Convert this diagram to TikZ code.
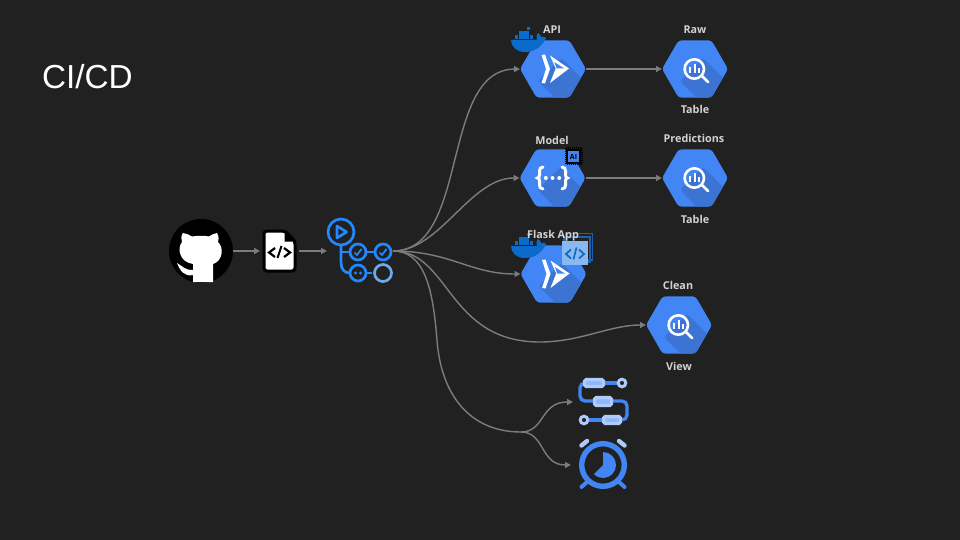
\documentclass[tikz,border=0pt]{standalone}
\usepackage{fontspec}
\setmainfont{Open Sans}
\newfontfamily\slidefont{Liberation Sans}
\usetikzlibrary{arrows.meta, positioning, shapes.geometric}
\definecolor{slidebg}{HTML}{212121}
\definecolor{gcpblue}{HTML}{4285F4}
\definecolor{gcpshade}{HTML}{3B74D2}
\definecolor{gcplight}{HTML}{AECBFA}
\definecolor{ghblue}{HTML}{2188FF}
\definecolor{ghlight}{HTML}{6CA8EA}
\definecolor{whaleblue}{HTML}{0B6BCB}
\definecolor{framenavy}{HTML}{1F5FA8}
\definecolor{linkgrey}{HTML}{7C7C7C}
\definecolor{labelgrey}{HTML}{D2D2D2}
\tikzset{
    link/.style={draw=linkgrey, line width=1.4pt, -{Triangle[length=6pt, width=6pt]}},
    linkplain/.style={draw=linkgrey, line width=1.4pt},
    hexbox/.style={regular polygon, regular polygon sides=6,
        minimum size=66pt, inner sep=0pt, outer sep=0pt, fill=gcpblue, rounded corners=3pt,
        path picture={\fill[gcpshade] (path picture bounding box.center)
            ++(8,-11) -- ++(40,40) -- ++(-23,23) -- ++(-40,-40) -- cycle;}},
    holder/.style={inner sep=0pt, outer sep=0pt},
    hexlabel/.style={font=\fontsize{10.8}{12}\selectfont\bfseries, text=labelgrey, inner sep=0pt},
    pill/.style={draw=gcplight, fill=gcplight!70!gcpblue, line width=3.3pt, rounded corners=1.5pt},
    bqglyph/.pic={
        \draw[white, line width=2.6pt] (-0.7,0) circle (9.7);
        \draw[white, line width=2.8pt, line cap=round] (7,7) -- (13,13);
        \draw[white, line width=2pt] (-5,-2.3) -- (-5,4.3) (-0.5,-5) -- (-0.5,4.3) (4,-0.7) -- (4,4.3);
    },
    runglyph/.pic={
        \fill[white] (-11.5,-14) -- (-8,-14.5) -- (-3,0) -- (-8,14.5) -- (-11.5,14) -- (-7,0) -- cycle;
        \fill[white] (-3,-13.5) -- (16,-0.5) -- (-3,14) -- (2.7,-0.5) -- cycle;
        \fill[gcpblue] (1.3,-7) -- (11.3,-0.5) -- (3.7,-0.5) -- cycle;
    },
    fnglyph/.pic={
        \foreach \s in {-1,1}
            \draw[white, line width=3pt, line cap=round] (\s*9.5,-11) .. controls (\s*12,-11) and (\s*13,-9) .. (\s*13,-7)
                -- (\s*13,-3) .. controls (\s*13,-1) and (\s*14,0) .. (\s*15,0)
                .. controls (\s*14,0) and (\s*13,1) .. (\s*13,3) -- (\s*13,7)
                .. controls (\s*13,9) and (\s*12,11) .. (\s*9.5,11);
        \foreach \x in {-6.7,0,6.7}
            \fill[white] (\x,0) circle (2);
    },
    whaleglyph/.pic={
        \fill[whaleblue] (-17,0) -- (9,0) .. controls (8,-4) and (9,-6) .. (10,-7)
            .. controls (12,-6) and (13,-4) .. (13,-3) .. controls (15,-4) and (17,-3) .. (18,-2)
            .. controls (15,5) and (8,12) .. (-3,12) .. controls (-12,12) and (-17,6) .. (-17,0) -- cycle;
        \foreach \x in {-13,-9.3,-5.6,-1.9,1.8}
            \fill[whaleblue] (\x,-4.6) rectangle ++(3.1,3.6);
        \foreach \x in {-9.3,-5.6,-1.9}
            \fill[whaleblue] (\x,-8.6) rectangle ++(3.1,3.4);
        \fill[whaleblue] (-1.4,-13) rectangle ++(3.2,3.4);
    },
}

\begin{document}
\begin{tikzpicture}[x=1pt, y=-1pt]
        % Slide background
        \fill[slidebg] (0,0) rectangle (960,540);
        \useasboundingbox (0,0) rectangle (960,540);

        \node[holder, anchor=base west, text=white, font=\slidefont\fontsize{33.3}{36}\selectfont] (title) at (42,89) {CI/CD};

        % Left chain
        \node[holder, circle, fill=black, minimum size=64pt] (github) at (201,251) {};
        \node[holder, minimum width=39pt, minimum height=44pt] (srcfile) at (279.5,251) {};
        \node[holder, minimum width=66pt, minimum height=66pt] (actions) at (360,251) {};

        \begin{scope}[shift={(github.center)}]
            \fill[white] (-18,-18) .. controls (-15,-18) and (-12,-16) .. (-9,-14.5)
                .. controls (-3,-15.5) and (3,-15.5) .. (8,-14.5) .. controls (11,-16) and (13,-18) .. (16,-18)
                .. controls (18,-14) and (18,-11) .. (17,-9) .. controls (23,-4) and (22,10) .. (12,13)
                .. controls (12,16) and (12,22) .. (12,31) -- (-8,31) -- (-8,24)
                .. controls (-16,26) and (-21,20) .. (-24,12) .. controls (-20,14) and (-15,20) .. (-8,19)
                .. controls (-8,16) and (-8,14) .. (-8,13) .. controls (-22,11) and (-24,-3) .. (-19,-9)
                .. controls (-20,-12) and (-20,-15) .. (-18,-18) -- cycle;
        \end{scope}

        % Source file
        \draw[black, fill=white, line width=3pt, rounded corners=3pt] (srcfile.center) ++(-15.5,-20) -- ++(21,0) -- ++(10,10) -- ++(0,30) -- ++(-31,0) -- cycle;
        \fill[black] (srcfile.center) ++(5,-20) -- ++(10.5,10.5) -- ++(-10.5,0) -- cycle;
        \draw[black, line width=2.2pt] (srcfile.center) ++(-4.5,-3) -- ++(-6,4.5) -- ++(6,4.5);
        \draw[black, line width=2.2pt] (srcfile.center) ++(4.5,-3) -- ++(6,4.5) -- ++(-6,4.5);
        \draw[black, line width=2pt] (srcfile.center) ++(2,-5) -- ++(-4,12);

        % Workflow mark
        \begin{scope}[shift={(actions.center)}, ghblue, line width=2.7pt]
            \draw (-19,-19) circle (13);
            \draw[line join=round] (-23,-25) -- (-13.5,-19) -- (-23,-13) -- cycle;
            \draw (-19,-6) -- (-19,11) .. controls (-19,18) and (-16,22) .. (-10,22);
            \draw (-19,1) -- (-10,1);
            \draw (-2,1) circle (8);
            \draw (6,1) -- (14,1);
            \draw (23,1) circle (8);
            \draw (-2,22) circle (8);
            \draw (6,22) -- (12,22);
            \draw[ghlight] (23,22) circle (8.5);
            \foreach \x in {-2,23}
                \draw[line width=1.7pt] (\x-3.5,1.5) -- (\x-1,4) -- (\x+3.5,-2);
            \foreach \x in {-4.5,0.5}
                \fill (\x,22) circle (1.7);
        \end{scope}

        \draw[link] (github) -- (srcfile);
        \draw[link] (srcfile) -- (actions);

        % Hexagons
        \node[hexbox] (api) at (553,69) {};
        \node[hexbox] (raw) at (695,69) {};
        \node[hexbox] (model) at (552.5,178) {};
        \node[hexbox] (pred) at (695,178) {};
        \node[hexbox] (flask) at (553.5,274) {};
        \node[hexbox] (clean) at (679,325) {};

        \foreach \n in {raw,pred,clean}
            \pic at (\n) {bqglyph};
        \foreach \n in {api,flask}
            \pic at (\n) {runglyph};
        \pic at (model) {fnglyph};

        % Whales sit over the hexagons
        \pic at (528,40) {whaleglyph};
        \pic at (528,246) {whaleglyph};

        % AI chip
        \node[holder, draw=black, fill=gcpblue, line width=2.5pt, minimum size=13pt, text=black, font=\fontsize{7}{8}\selectfont\bfseries] (chip) at (573.5,156.5) {AI};
        \draw[black, line width=2pt, dash pattern=on 1pt off 1pt] (chip.south west) ++(-1.5,1.5) rectangle ([xshift=1.5pt, yshift=1.5pt]chip.north east);

        % Code window
        \draw[framenavy, line width=1.4pt] (566,233.5) rectangle (592.5,260);
        \draw[framenavy, line width=1.2pt] (564,237) rectangle (590,262);
        \node[holder, fill=ghlight!80!white, minimum width=26pt, minimum height=24pt] (codewin) at (575,253) {};
        \draw[whaleblue, line width=1.8pt] (codewin.center) ++(-4,-3.5) -- ++(-5,4.5) -- ++(5,4.5);
        \draw[whaleblue, line width=1.8pt] (codewin.center) ++(4,-3.5) -- ++(5,4.5) -- ++(-5,4.5);
        \draw[whaleblue, line width=1.6pt] (codewin.center) ++(1.5,-5.5) -- ++(-3,12);

        % Labels
        \node[hexlabel] (apilabel) at (552,29.5) {API};
        \node[hexlabel] (rawlabel) at (695,29.5) {Raw};
        \node[hexlabel] (rawtable) at (695,109.5) {Table};
        \node[hexlabel] (modellabel) at (552,140.5) {Model};
        \node[hexlabel] (predlabel) at (694,138.5) {Predictions};
        \node[hexlabel] (predtable) at (695,219.5) {Table};
        \node[hexlabel] (flasklabel) at (553,235.5) {Flask App};
        \node[hexlabel] (cleanlabel) at (678,285.5) {Clean};
        \node[hexlabel] (viewlabel) at (679,366.5) {View};

        % Pipeline and timer marks
        \node[holder, minimum size=60pt] (flow) at (603,402) {};
        \node[holder, minimum size=64pt] (alarm) at (603,465) {};
        \coordinate (split) at (521,432);

        \begin{scope}[shift={(flow.center)}]
            \draw[gcpblue, line width=3.3pt, rounded corners=5pt] (-13,-19) -- (-23,-19) -- (-23,-1) -- (-10,-1);
            \draw[gcpblue, line width=3.3pt, rounded corners=5pt] (10,-1) -- (24,-1) -- (24,18) -- (19,18);
            \draw[gcpblue, line width=3.3pt] (2,-19) -- (14,-19) (-14,18) -- (-1,18);
            \draw[pill] (-18.4,-22.4) rectangle (0.4,-15.6);
            \draw[pill] (-8.4,-4.4) rectangle (8.4,3.4);
            \draw[pill] (0.6,14.6) rectangle (17.4,21.4);
            \draw[gcplight, line width=3pt] (19,-19) circle (3.8);
            \draw[gcplight, line width=3pt] (-19,18) circle (3.8);
        \end{scope}

        \begin{scope}[shift={(alarm.center)}]
            \draw[gcpblue, line width=5.4pt] (0,0) circle (21.3);
            \fill[gcpblue] (0,0) -- (0,-13) arc[start angle=-90, end angle=135, radius=13] -- cycle;
            \draw[gcplight, line width=4.4pt, line cap=round] (-21.5,-19.5) -- (-16,-24) (21.5,-19.5) -- (16,-24);
            \draw[gcpblue, line width=4pt, line cap=round] (-16,17) -- (-21.5,22) (16,17) -- (21.5,22);
        \end{scope}

        % Links out of the workflow
        \draw[link] (actions.east) .. controls (470,251) and (440,70) .. (api.west);
        \draw[link] (actions.east) .. controls (440,251) and (470,178) .. (model.west);
        \draw[link] (actions.east) .. controls (450,251) and (470,274) .. (flask.west);
        \draw[link] (actions.east) .. controls (450,251) and (447,342) .. (540,342) .. controls (580,342) and (610,325) .. (clean.west);
        \draw[linkplain] (actions.east) .. controls (425,251) and (433,290) .. (437,340) .. controls (441,395) and (470,432) .. (split);
        \draw[link] (split) .. controls (545,432) and (540,402) .. (flow.west);
        \draw[link] (split) .. controls (545,432) and (540,465) .. (alarm.west);
        \draw[link] (api) -- (raw);
        \draw[link] (model) -- (pred);
\end{tikzpicture}
\end{document}
